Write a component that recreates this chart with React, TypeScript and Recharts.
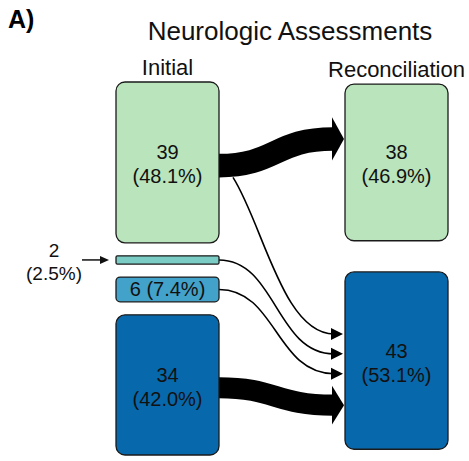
import React from 'react';
import { Sankey } from 'recharts';

// nodes: 4 initial groups on the left, 2 reconciled groups on the right
const NODE_NAMES = ['Initial group 1', 'Initial group 2', 'Initial group 3', 'Initial group 4', 'Reconciled group 1', 'Reconciled group 2'];
const NODE_COLORS = ['#bae4bc', '#7bccc4', '#43a2ca', '#0868ac', '#bae4bc', '#0868ac'];
const NODE_COLUMN = [0, 0, 0, 0, 1, 1];
const COLUMN_TITLES = ['Initial', 'Reconciliation'];

// flows initial -> reconciliation
const LINK_SOURCES = [0, 0, 1, 2, 3];
const LINK_TARGETS = [4, 5, 5, 5, 5];
const LINK_VALUES = [38, 1, 2, 6, 34];

const TOTAL = LINK_VALUES.reduce((a, b) => a + b, 0);

const W = 469;
const H = 461;
const MARGIN = { top: 82, right: 21, bottom: 6, left: 116 };
const FONT = '"Liberation Sans", Arial, Helvetica, sans-serif';

const data = {
  nodes: NODE_NAMES.map((name) => ({ name })),
  links: LINK_SOURCES.map((s, i) => ({ source: s, target: LINK_TARGETS[i], value: LINK_VALUES[i] })),
};

function NodeBox(props: any) {
  const { x, y, width, height, index, payload } = props;
  const cx = x + width / 2;
  const cy = y + height / 2;
  const value = payload.value;
  const pct = `(${((value / TOTAL) * 100).toFixed(1)}%)`;
  const col = NODE_COLUMN[index];
  const isHead = NODE_COLUMN.indexOf(col) === index;
  const rx = Math.min(9, height / 6);
  return (
    <g>
      <rect x={x} y={y} width={width} height={height} rx={rx} ry={rx} fill={NODE_COLORS[index]} stroke="#1a1a1a" strokeWidth={1.3} />
      {isHead && (
        <text x={cx} y={y - 7} textAnchor="middle" fontSize={22} fontFamily={FONT} fill="#111">
          {COLUMN_TITLES[col]}
        </text>
      )}
      {height < 14 ? (
        <g>
          <text x={x - 62} y={cy - 3} textAnchor="middle" fontSize={19} fontFamily={FONT} fill="#111">{value}</text>
          <text x={x - 62} y={cy + 20} textAnchor="middle" fontSize={19} fontFamily={FONT} fill="#111">{pct}</text>
          <line x1={x - 34} y1={cy} x2={x - 14} y2={cy} stroke="#111" strokeWidth={1.5} />
          <polygon points={`${x - 16},${cy - 4} ${x - 7},${cy} ${x - 16},${cy + 4}`} fill="#111" />
        </g>
      ) : height < 40 ? (
        <text x={cx} y={cy + 7} textAnchor="middle" fontSize={20} fontFamily={FONT} fill="#111">{`${value} ${pct}`}</text>
      ) : (
        <g>
          <text x={cx} y={cy - 3} textAnchor="middle" fontSize={20} fontFamily={FONT} fill="#111">{value}</text>
          <text x={cx} y={cy + 21} textAnchor="middle" fontSize={20} fontFamily={FONT} fill="#111">{pct}</text>
        </g>
      )}
    </g>
  );
}

function FlowArrow(props: any) {
  const { sourceX, targetX, linkWidth, index, payload } = props;
  const src = payload.source;
  const tgt = payload.target;
  const srcTop = src.y + MARGIN.top;
  const tgtTop = tgt.y + MARGIN.top;
  const k = linkWidth / payload.value;
  const thick = payload.value >= 20;
  const rank = Math.max(0, (tgt.sourceLinks || []).indexOf(index));
  let ey = tgtTop + tgt.dy * (0.35 + 0.112 * rank);

  if (thick) {
    const w = linkWidth * 0.15;
    // a thick arrow below thin ones keeps clear of them
    if (rank > 0) ey += w * 0.55;
    const sx = sourceX;
    const sy = srcTop + src.dy * 0.52;
    const tip = targetX - 1;
    const ex = tip - 12;
    const mx = (sx + ex) / 2;
    const half = w * 0.92;
    return (
      <g>
        <path d={`M${sx},${sy} C${mx},${sy} ${mx},${ey} ${ex + 1},${ey}`} fill="none" stroke="#000" strokeWidth={w} />
        <polygon points={`${ex},${ey - half} ${tip},${ey} ${ex},${ey + half}`} fill="#000" />
      </g>
    );
  }

  // thin flow: starts under a thick sibling if the node has one
  const siblings: number[] = src.targetLinks || [];
  const thickSib = siblings.find((j) => LINK_VALUES[j] >= 20);
  let sx = sourceX;
  let sy = srcTop + src.dy / 2;
  let c1x: number;
  let c1y: number;
  const tip = targetX - 2;
  const ex = tip - 10;
  if (thickSib !== undefined) {
    const wSib = LINK_VALUES[thickSib] * k * 0.15;
    sx = sourceX + 14;
    sy = srcTop + src.dy * 0.52 + wSib / 2;
    c1x = sx + (ex - sx) * 0.3;
    c1y = sy + (ey - sy) * 0.3;
  } else {
    c1x = (sx + ex) / 2;
    c1y = sy;
  }
  const mx = (sx + ex) / 2;
  return (
    <g>
      <path d={`M${sx},${sy} C${c1x},${c1y} ${mx},${ey} ${ex + 1},${ey}`} fill="none" stroke="#000" strokeWidth={1.6} />
      <polygon points={`${tip - 12},${ey - 6} ${tip},${ey} ${tip - 12},${ey + 6}`} fill="#000" />
    </g>
  );
}

export default function App() {
  return (
    <div style={{ position: 'absolute', left: 0, top: 0, width: W, height: H, overflow: 'hidden', background: '#fff' }}>
      <Sankey
        width={W}
        height={H}
        data={data}
        margin={MARGIN}
        nodeWidth={103}
        nodePadding={13}
        iterations={32}
        sort={false}
        node={<NodeBox />}
        link={<FlowArrow />}
      />
      <svg width={W} height={56} style={{ position: 'absolute', left: 0, top: 0, pointerEvents: 'none' }}>
        <text x={8} y={28} fontSize={25} fontWeight="bold" fontFamily={FONT} fill="#000">A)</text>
        <text x={290} y={40} textAnchor="middle" fontSize={26} fontFamily={FONT} fill="#111">Neurologic Assessments</text>
      </svg>
    </div>
  );
}
